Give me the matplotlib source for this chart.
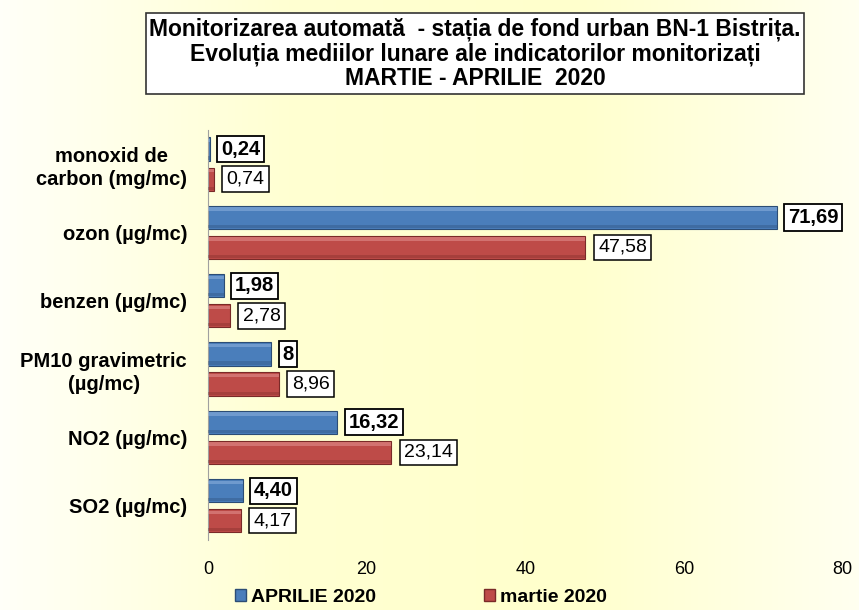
import numpy as np
import matplotlib
matplotlib.use('Agg')
import matplotlib.pyplot as plt
from matplotlib.colors import LinearSegmentedColormap

plt.rcParams['font.family'] = ['Liberation Sans', 'DejaVu Sans']

categories = ['monoxid de\ncarbon (mg/mc)', 'ozon (µg/mc)', 'benzen (µg/mc)',
              'PM10 gravimetric\n(µg/mc)', 'NO2 (µg/mc)', 'SO2 (µg/mc)']
aprilie = [0.24, 71.69, 1.98, 8, 16.32, 4.40]
martie = [0.74, 47.58, 2.78, 8.96, 23.14, 4.17]
aprilie_lbl = ['0,24', '71,69', '1,98', '8', '16,32', '4,40']
martie_lbl = ['0,74', '47,58', '2,78', '8,96', '23,14', '4,17']
series_names = ['APRILIE 2020', 'martie 2020']
xticks = [0, 20, 40, 60, 80]

blue = '#4a7ebb'
red = '#be4b48'

fig = plt.figure(figsize=(8.59, 6.10), dpi=100)

# background gradient
bg = fig.add_axes([0, 0, 1, 1], zorder=-10)
cmap = LinearSegmentedColormap.from_list('bg', ['#fffff8', '#ffffd2', '#ffffcc', '#fffff0'])
bg.imshow(np.linspace(0, 1, 256)[None, :], aspect='auto', cmap=cmap, extent=[0, 1, 0, 1])
bg.axis('off')

ax = fig.add_axes([0.242, 0.115, 0.739, 0.672])
ax.set_facecolor('none')

y = np.arange(len(categories))
h = 0.34
off = 0.22

def bevel_bars(yy, vals, color, dark, light):
    ax.barh(yy, vals, height=h, color=color, edgecolor=dark, linewidth=0.8, zorder=2)
    ax.barh(yy - h * 0.36, vals, height=h * 0.14, color=light, linewidth=0, zorder=3, alpha=0.45)
    ax.barh(yy + h * 0.39, vals, height=h * 0.14, color=dark, linewidth=0, zorder=3, alpha=0.35)

bevel_bars(y - off, aprilie, blue, '#2c4d75', '#9dbde6')
bevel_bars(y + off, martie, red, '#7a2a28', '#eba3a1')

for yy, v, s in zip(y - off, aprilie, aprilie_lbl):
    ax.text(v + 1.4, yy, s, va='center', ha='left', fontsize=14.5, fontweight='bold', zorder=5,
            bbox=dict(boxstyle='square,pad=0.18', fc='white', ec='black', lw=1.3))
for yy, v, s in zip(y + off, martie, martie_lbl):
    ax.text(v + 1.6, yy, s, va='center', ha='left', fontsize=14, zorder=5,
            bbox=dict(boxstyle='square,pad=0.22', fc='white', ec='black', lw=1.1))

ax.set_ylim(len(categories) - 0.5, -0.5)
ax.set_xlim(0, 80)
ax.set_yticks(y)
ax.set_yticklabels(categories, fontsize=14.5, fontweight='bold', linespacing=1.25)
for lbl in ax.get_yticklabels():
    lbl.set_multialignment('center')
ax.set_xticks(xticks)
ax.set_xticklabels([str(t) for t in xticks], fontsize=13)
ax.tick_params(length=0)
ax.tick_params(axis='x', pad=15)
ax.tick_params(axis='y', pad=15)
for side in ['top', 'right', 'bottom']:
    ax.spines[side].set_visible(False)
ax.spines['left'].set_color('#a0a0a0')

fig.text(0.553, 0.912, 'Monitorizarea automată  - stația de fond urban BN-1 Bistrița.\n'
         'Evoluția mediilor lunare ale indicatorilor monitorizați\nMARTIE - APRILIE  2020',
         ha='center', va='center', fontsize=16.5, fontweight='bold', linespacing=1.08,
         bbox=dict(boxstyle='square,pad=0.15', fc='white', ec='#333333', lw=1.2))

handles = [plt.Rectangle((0, 0), 1, 1, fc=blue, ec='#2c4d75'),
           plt.Rectangle((0, 0), 1, 1, fc=red, ec='#7a2a28')]
fig.legend(handles, series_names, loc='center', bbox_to_anchor=(0.49, 0.021), ncol=2,
           frameon=False, prop={'weight': 'bold', 'size': 14}, handlelength=0.55,
           handleheight=0.55, handletextpad=0.25, columnspacing=5.6)

fig.savefig('out.png', dpi=100)
